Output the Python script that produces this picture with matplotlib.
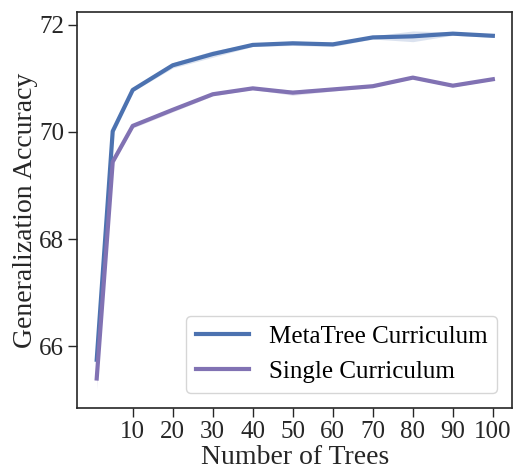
import numpy as np
import matplotlib
matplotlib.use('Agg')
from matplotlib import pyplot as plt

# number of trees
n_trees = [1, 5, 10, 20, 30, 40, 50, 60, 70, 80, 90, 100]

# generalization accuracy (mean) and band half-width
metatree_acc = [65.75, 70.01, 70.78, 71.24, 71.45, 71.62, 71.65, 71.63, 71.76, 71.78, 71.83, 71.79]
metatree_err = [0.05, 0.03, 0.03, 0.05, 0.06, 0.03, 0.04, 0.04, 0.03, 0.10, 0.03, 0.03]
single_acc = [65.40, 69.44, 70.11, 70.41, 70.70, 70.81, 70.73, 70.79, 70.85, 71.01, 70.86, 70.98]
single_err = [0.20, 0.05, 0.04, 0.04, 0.03, 0.02, 0.05, 0.03, 0.02, 0.02, 0.02, 0.02]

labels = ['MetaTree Curriculum', 'Single Curriculum']
colors = ['#4C72B0', '#8172B3']

plt.rcParams['font.family'] = ['Liberation Serif', 'DejaVu Serif']

fig = plt.figure(figsize=(5.14, 4.69), dpi=100)
ax = fig.add_axes([0.150, 0.130, 0.847, 0.844])

for acc, err, lab, c in zip([metatree_acc, single_acc], [metatree_err, single_err], labels, colors):
    acc = np.array(acc)
    err = np.array(err)
    ax.fill_between(n_trees, acc - err, acc + err, color=c, alpha=0.2, linewidth=0)
    ax.plot(n_trees, acc, color=c, linewidth=3, label=lab)

ax.set_xlim(-3.9, 104.9)
ax.set_ylim(64.85, 72.23)
ax.set_xticks(range(10, 101, 10))
ax.set_yticks([66, 68, 70, 72])
ax.tick_params(labelsize=18, length=6.5, width=1, color='.15', labelcolor='.15', pad=3)
for sp in ax.spines.values():
    sp.set_color('.15')
    sp.set_linewidth(1.2)
ax.set_xlabel('Number of Trees', fontsize=20, color='.15', labelpad=1)
ax.set_ylabel('Generalization Accuracy', fontsize=20, color='.15', labelpad=1)

leg = ax.legend(loc='lower right', fontsize=18, handlelength=2.1, handletextpad=0.8,
                borderaxespad=0.6, framealpha=0.8)
for h in leg.get_lines():
    h.set_linewidth(3)

plt.savefig('out.png', dpi=100)
